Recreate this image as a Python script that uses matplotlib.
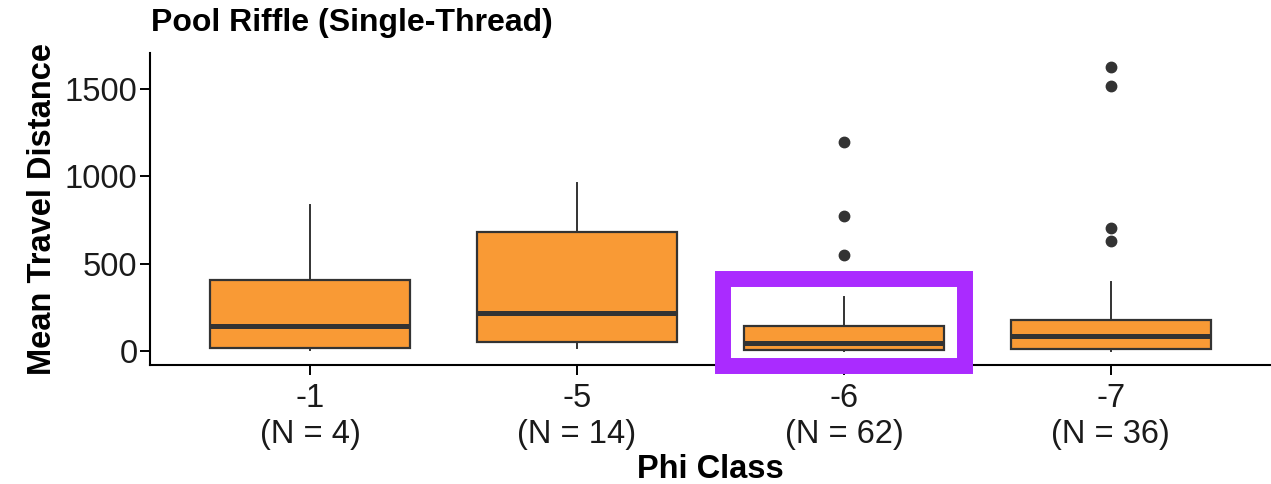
import matplotlib.pyplot as plt
from matplotlib.patches import Rectangle

plt.rcParams['font.family'] = ['Liberation Sans', 'DejaVu Sans']

# five-number summaries per phi class (read as medians / hinges / whisker ends)
classes = ['-1', '-5', '-6', '-7']
counts = [4, 14, 62, 36]
whislo = [5, 17, 0, 0]
q1 = [15, 50, 6, 11]
med = [141, 218, 46, 84]
q3 = [407, 680, 141, 179]
whishi = [836, 962, 307, 397]
fliers = [[], [], [550, 775, 1199], [628, 706, 1519, 1626]]

fill = '#F99A35'
edge = '#333333'

fig = plt.figure(figsize=(12.71, 4.84), dpi=100)
ax = fig.add_axes([150/1271, 1 - 365/484, 1 - 150/1271, (365 - 53)/484])

stats = []
for i in range(len(classes)):
    stats.append(dict(whislo=whislo[i], q1=q1[i], med=med[i], q3=q3[i],
                      whishi=whishi[i], fliers=fliers[i]))

pos = list(range(len(classes)))
ax.bxp(stats, positions=pos, widths=0.75, patch_artist=True, showcaps=False,
       boxprops=dict(facecolor=fill, edgecolor=edge, linewidth=1.6),
       medianprops=dict(color=edge, linewidth=3.6, solid_capstyle='butt'),
       whiskerprops=dict(color=edge, linewidth=1.4),
       flierprops=dict(marker='o', markerfacecolor=edge, markeredgecolor=edge,
                       markersize=7.5))

ax.set_xlim(-0.6, 3.6)
ax.set_ylim(-81, 1707)
ax.set_yticks([0, 500, 1000, 1500])
ax.set_xticks(pos)
ax.set_xticklabels([f'{c}\n(N = {n})' for c, n in zip(classes, counts)])
for lab in ax.get_xticklabels():
    lab.set_linespacing(1.2)

for s in ['top', 'right']:
    ax.spines[s].set_visible(False)
for s in ['left', 'bottom']:
    ax.spines[s].set_linewidth(1.5)
    ax.spines[s].set_color('black')
ax.tick_params(axis='both', labelsize=23.5, width=1.4, length=7,
               colors='black', labelcolor='#1a1a1a')
ax.tick_params(axis='x', pad=6)
ax.tick_params(axis='y', pad=2)

ax.set_xlabel('Phi Class', fontsize=23.5, fontweight='bold', labelpad=3)
ax.set_ylabel('Mean Travel Distance', fontsize=23.5, fontweight='bold', labelpad=5)
fig.text(151/1271, 1 - 23/484, 'Pool Riffle (Single-Thread)', fontsize=23,
         fontweight='bold', ha='left', va='center')

# highlight around the -6 class
hl = Rectangle((1.545, -88), 2.455 - 1.545, 412 + 88, fill=False,
               edgecolor='#AA2BFF', linewidth=11.5, clip_on=False, zorder=5)
ax.add_patch(hl)

fig.savefig('out.png', dpi=100)
